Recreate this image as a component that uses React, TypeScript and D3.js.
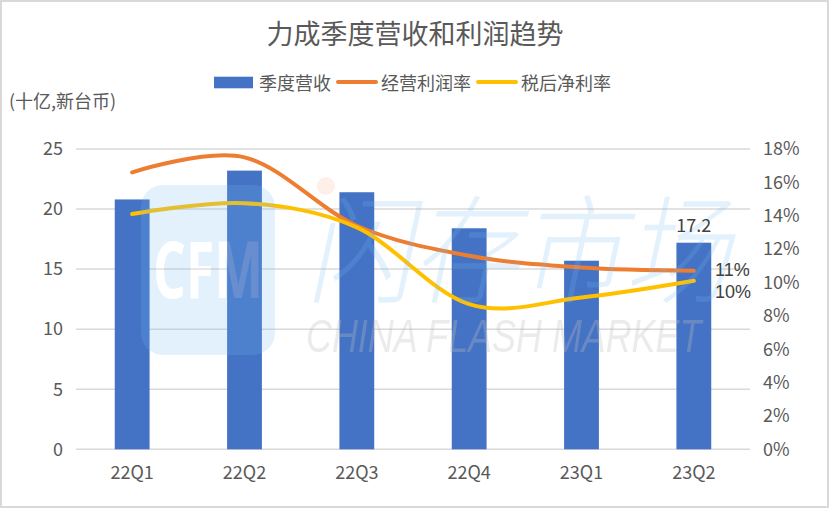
import React from 'react';
import * as d3 from 'd3';

const title = '力成季度营收和利润趋势';
const unitLabel = '(十亿,新台币)';
const quarters = ['22Q1', '22Q2', '22Q3', '22Q4', '23Q1', '23Q2'];
const revenue = [20.8, 23.2, 21.4, 18.4, 15.7, 17.2];
const opMargin = [16.6, 17.5, 13.4, 11.6, 10.9, 10.7];
const netMargin = [14.1, 14.75, 13.3, 8.7, 9.1, 10.1];
const leftTicks = [0, 5, 10, 15, 20, 25];
const rightTicks = [0, 2, 4, 6, 8, 10, 12, 14, 16, 18];
const seriesNames = ['季度营收', '经营利润率', '税后净利率'];
const seriesColors = ['#4472c4', '#ed7d31', '#ffc000'];

const W = 830;
const H = 509;
const font = '"Noto Sans CJK SC", "Noto Sans", sans-serif';
const axisColor = '#595959';

const App: React.FC = () => {
  const x = d3.scaleBand<string>().domain(quarters).range([76, 750]);
  const yL = d3.scaleLinear().domain([0, 25]).range([449.3, 149]);
  const yR = d3.scaleLinear().domain([0, 18]).range([449.3, 149]);
  const cx = (i: number) => x(quarters[i])! + x.bandwidth() / 2;
  const barW = x.bandwidth() * 0.31;

  const line = d3.line<number>()
    .x((_, i) => cx(i))
    .y(d => yR(d))
    .curve(d3.curveCardinal.tension(0));

  const last = quarters.length - 1;

  // legend layout
  const fs = 18;
  let cursor = 214;
  const legend = seriesNames.map((name, i) => {
    const sx = cursor;
    const tx = sx + 40 + 5;
    cursor = tx + name.length * fs + 5;
    return { name, sx, tx, color: seriesColors[i], isBar: i === 0 };
  });

  const pctFont = '"Liberation Sans", Arial, sans-serif';

  return (
    <svg width={W} height={H} style={{ position: 'absolute', left: 0, top: 0, background: '#fff' }} fontFamily={font}>
      <defs>
        <mask id="cfmMask">
          <rect x={0} y={0} width={W} height={H} fill="#fff" />
          <text x={153} y={298} fontSize={78} fontWeight="bold" textLength={110} lengthAdjust="spacingAndGlyphs" fill="#000" fontFamily='"Open Sans", sans-serif'>CFM</text>
        </mask>
      </defs>
      <rect x={1} y={1} width={W - 3} height={H - 3} fill="#fff" stroke="#d9d9d9" strokeWidth={2} />

      <text x={415} y={43.5} textAnchor="middle" fontSize={27} fill={axisColor}>{title}</text>

      {legend.map(l => (
        <g key={l.name}>
          {l.isBar
            ? <rect x={l.sx} y={76.7} width={39} height={11.6} fill={l.color} />
            : <line x1={l.sx + 2} x2={l.sx + 40} y1={82} y2={82} stroke={l.color} strokeWidth={4} strokeLinecap="round" />}
          <text x={l.tx} y={89.5} fontSize={fs} fill={axisColor}>{l.name}</text>
        </g>
      ))}

      <text x={9} y={107.5} fontSize={18} fill={axisColor}>{unitLabel}</text>

      {leftTicks.map(t => (
        <g key={t}>
          <line x1={76} x2={750} y1={yL(t)} y2={yL(t)} stroke="#d9d9d9" strokeWidth={1.5} />
          <text x={63} y={yL(t)} dy="0.35em" textAnchor="end" fontSize={18} fill={axisColor}>{t}</text>
        </g>
      ))}
      {rightTicks.map(t => (
        <text key={t} x={763} y={yR(t)} dy="0.35em" fontSize={18} fill={axisColor}>{t}%</text>
      ))}
      {quarters.map((q, i) => (
        <text key={q} x={cx(i)} y={478.5} textAnchor="middle" fontSize={18} fill={axisColor}>{q}</text>
      ))}

      {revenue.map((v, i) => (
        <rect key={quarters[i]} x={cx(i) - barW / 2} y={yL(v)} width={barW} height={yL(0) - yL(v)} fill={seriesColors[0]} />
      ))}

      <path d={line(opMargin)!} fill="none" stroke={seriesColors[1]} strokeWidth={4} strokeLinecap="round" />
      <path d={line(netMargin)!} fill="none" stroke={seriesColors[2]} strokeWidth={4} strokeLinecap="round" />

      {/* watermark */}
      <g>
        <rect x={141} y={185} width={134} height={170} rx={22} fill="rgb(120,190,245)" opacity={0.2} mask="url(#cfmMask)" />
        <text x={153} y={298} fontSize={78} fontWeight="bold" textLength={110} lengthAdjust="spacingAndGlyphs" fill="#fff" opacity={0.2} fontFamily='"Open Sans", sans-serif'>CFM</text>
        <circle cx={326} cy={186} r={9} fill="rgb(245,150,100)" opacity={0.15} />
        <g transform="translate(306,294) skewX(-12) scale(0.9,1)">
          <text x={0} y={0} fontSize={118} fontWeight={300} fill="rgb(120,190,245)" opacity={0.2}>闪存市场</text>
        </g>
        <g transform="translate(306,352) scale(0.78,1)">
          <text x={0} y={0} fontSize={46} fontStyle="italic" fill="rgb(190,190,190)" opacity={0.3} fontFamily='"Liberation Sans", sans-serif'>CHINA FLASH MARKET</text>
        </g>
      </g>

      <text x={cx(last)} y={yL(revenue[last]) - 11} textAnchor="middle" fontSize={18} fill="#404040">{revenue[last]}</text>
      <text x={715} y={yR(opMargin[last]) - 1} dy="0.35em" fontSize={18} fill="#404040" fontFamily={pctFont}>{Math.round(opMargin[last])}%</text>
      <text x={715} y={yR(netMargin[last]) + 11} dy="0.35em" fontSize={18} fill="#404040" fontFamily={pctFont}>{Math.round(netMargin[last])}%</text>
    </svg>
  );
};

export default App;
